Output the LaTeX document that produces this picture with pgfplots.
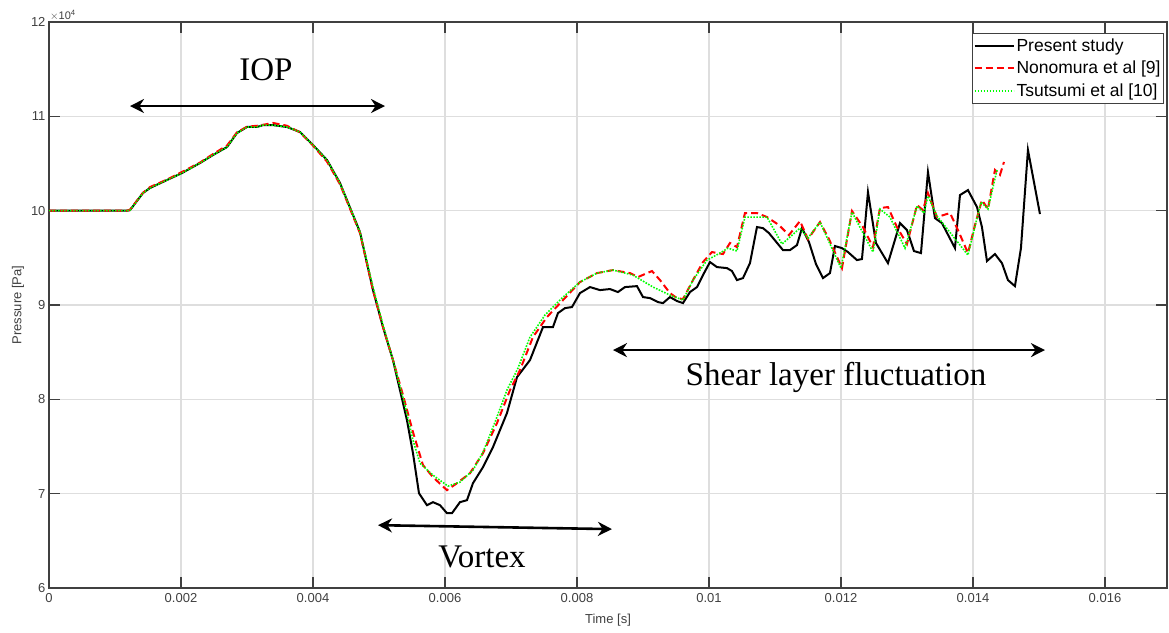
\documentclass[border=0pt]{standalone}
\usepackage{fontspec}
\setmainfont{Liberation Sans}
\newfontfamily\timesfont{Liberation Serif}
\usepackage{pgfplots}
\pgfplotsset{compat=1.18}
\usetikzlibrary{arrows.meta}
\definecolor{axgray}{HTML}{404040}
\definecolor{gridgray}{HTML}{DEDEDE}
\definecolor{mgreen}{HTML}{00FF00}
\definecolor{mred}{HTML}{FF0000}
\begin{document}
\begin{tikzpicture}
\begin{axis}[
  scale only axis, width=1118pt, height=566pt,
  xmin=0, xmax=16.94, ymin=6, ymax=12,
  xtick={0,2,...,16},
  xticklabels={0,0.002,0.004,0.006,0.008,0.01,0.012,0.014,0.016},
  ytick={6,7,...,12},
  grid=major, grid style={gridgray, line width=1.2pt},
  axis line style={axgray, line width=1.6pt},
  tick style={axgray, line width=1.6pt},
  tick align=inside, major tick length=11pt,
  /pgf/number format/assume math mode=true,
  ticklabel style={axgray, font=\fontsize{13}{15}\selectfont},
  xticklabel style={yshift=-2pt},
  xlabel={Time [s]}, ylabel={Pressure [Pa]},
  label style={axgray, font=\fontsize{13}{15}\selectfont},
  xlabel style={yshift=-4pt},
  ylabel style={yshift=0pt},
  legend style={at={(0.9973,0.9806)}, anchor=north east, draw=axgray, line width=1pt,
    font=\fontsize{17.5}{20}\selectfont, inner xsep=1pt, inner ysep=3pt, row sep=4.5pt, fill=white,
    nodes={inner xsep=2pt}},
  legend cell align=left,
  legend image code/.code={\draw[#1] (-2pt,0pt) -- (37pt,0pt);},
]
\addplot[black, line width=2pt] coordinates {
(0,10.0)(1.182,10.0)(1.227,10.005)(1.424,10.187)(1.530,10.240)(1.788,10.325)(2.015,10.399)(2.288,10.505)(2.485,10.590)(2.697,10.674)(2.848,10.823)(3.0,10.887)(3.152,10.887)(3.242,10.907)(3.394,10.907)(3.606,10.887)(3.803,10.834)(4.0,10.696)(4.212,10.537)(4.409,10.293)(4.712,9.773)(4.909,9.158)(5.061,8.766)(5.212,8.416)(5.424,7.779)(5.515,7.429)(5.606,7.005)(5.727,6.878)(5.818,6.910)(5.924,6.878)(6.030,6.793)(6.106,6.793)(6.227,6.910)(6.333,6.931)(6.424,7.111)(6.576,7.281)(6.727,7.493)(6.939,7.854)(7.091,8.235)(7.288,8.416)(7.485,8.766)(7.636,8.766)(7.712,8.914)(7.818,8.967)(7.924,8.978)(8.045,9.126)(8.197,9.190)(8.348,9.158)(8.5,9.169)(8.621,9.137)(8.727,9.190)(8.909,9.200)(9.0,9.084)(9.106,9.073)(9.227,9.031)(9.303,9.020)(9.409,9.084)(9.515,9.042)(9.606,9.020)(9.712,9.137)(9.818,9.190)(9.909,9.317)(10.015,9.455)(10.121,9.402)(10.273,9.391)(10.348,9.360)(10.424,9.264)(10.515,9.285)(10.621,9.444)(10.727,9.826)(10.818,9.815)(10.909,9.762)(11.121,9.582)(11.227,9.582)(11.333,9.635)(11.409,9.815)(11.515,9.667)(11.621,9.434)(11.727,9.285)(11.833,9.338)(11.909,9.625)(12.015,9.603)(12.106,9.561)(12.242,9.476)(12.318,9.487)(12.409,10.197)(12.530,9.657)(12.712,9.444)(12.894,9.868)(13.0,9.794)(13.106,9.572)(13.212,9.550)(13.318,10.409)(13.424,9.921)(13.530,9.868)(13.727,9.603)(13.803,10.165)(13.924,10.218)(14.061,10.038)(14.136,9.826)(14.212,9.466)(14.333,9.540)(14.439,9.444)(14.530,9.264)(14.636,9.200)(14.727,9.603)(14.833,10.643)(15.015,9.964)
};
\addlegendentry{Present study}
\addplot[mred, line width=2pt, dash pattern=on 7pt off 4pt] coordinates {
(0,10)(1.182,10)(1.227,10.01)(1.424,10.19)(1.53,10.25)(1.788,10.33)(2.015,10.41)(2.288,10.51)(2.485,10.6)(2.697,10.69)(2.848,10.83)(3.0,10.89)(3.152,10.9)(3.242,10.91)(3.394,10.93)(3.606,10.9)(3.803,10.83)(4.0,10.69)(4.212,10.52)(4.409,10.28)(4.712,9.762)(4.909,9.158)(5.061,8.766)(5.212,8.416)(5.364,8.045)(5.515,7.652)(5.667,7.302)(5.818,7.175)(6.030,7.037)(6.182,7.111)(6.379,7.217)(6.576,7.429)(6.788,7.748)(6.985,8.098)(7.136,8.310)(7.333,8.660)(7.545,8.872)(7.788,9.052)(8.045,9.243)(8.303,9.338)(8.545,9.370)(8.803,9.338)(8.924,9.296)(9.136,9.360)(9.258,9.264)(9.409,9.126)(9.515,9.073)(9.606,9.062)(9.758,9.264)(9.909,9.455)(10.045,9.561)(10.212,9.540)(10.318,9.657)(10.424,9.614)(10.545,9.975)(10.727,9.975)(10.879,9.932)(11.061,9.847)(11.212,9.741)(11.379,9.890)(11.5,9.699)(11.682,9.879)(11.818,9.699)(12.015,9.391)(12.167,9.996)(12.333,9.826)(12.485,9.614)(12.591,10.028)(12.712,10.038)(12.848,9.826)(13.0,9.646)(13.152,10.059)(13.242,10.006)(13.318,10.187)(13.455,9.932)(13.652,9.975)(13.773,9.794)(13.924,9.550)(14.030,9.847)(14.136,10.112)(14.227,10.017)(14.333,10.431)(14.409,10.378)(14.470,10.516)
};
\addlegendentry{Nonomura et al [9]}
\addplot[mgreen, line width=1.6pt, dash pattern=on 1.6pt off 1.4pt] coordinates {
(0,10.0)(1.182,10.0)(1.227,10.005)(1.424,10.187)(1.530,10.240)(1.788,10.325)(2.015,10.399)(2.288,10.505)(2.485,10.590)(2.697,10.674)(2.848,10.823)(3.0,10.887)(3.152,10.887)(3.242,10.907)(3.394,10.907)(3.606,10.887)(3.803,10.834)(4.0,10.696)(4.212,10.537)(4.409,10.293)(4.712,9.773)(4.909,9.190)(5.061,8.787)(5.212,8.416)(5.394,7.938)(5.515,7.567)(5.621,7.323)(5.818,7.196)(6.045,7.080)(6.227,7.122)(6.424,7.249)(6.576,7.440)(6.758,7.758)(6.939,8.098)(7.106,8.331)(7.288,8.660)(7.515,8.893)(7.773,9.073)(8.045,9.243)(8.303,9.338)(8.545,9.370)(8.848,9.317)(9.152,9.190)(9.409,9.105)(9.606,9.052)(9.758,9.264)(9.970,9.476)(10.167,9.550)(10.288,9.603)(10.424,9.572)(10.545,9.932)(10.879,9.932)(11.106,9.646)(11.379,9.815)(11.5,9.709)(11.682,9.879)(12.0,9.391)(12.167,9.985)(12.485,9.561)(12.591,10.017)(12.742,9.932)(12.970,9.603)(13.152,10.049)(13.258,9.975)(13.318,10.155)(13.455,9.943)(13.924,9.529)(14.121,10.091)(14.227,10.017)(14.364,10.431)
};
\addlegendentry{Tsutsumi et al [10]}
\draw[{Stealth[length=14pt,width=14pt]}-{Stealth[length=14pt,width=14pt]}, line width=2.6pt] (axis cs:1.227,11.109) -- (axis cs:5.091,11.109);
\node[font={\timesfont\fontsize{33}{36}\selectfont}] at (axis cs:3.288,11.491) {IOP};
\draw[{Stealth[length=14pt,width=14pt]}-{Stealth[length=14pt,width=14pt]}, line width=2.6pt] (axis cs:4.985,6.666) -- (axis cs:8.530,6.624);
\node[font={\timesfont\fontsize{33}{36}\selectfont}] at (axis cs:6.561,6.327) {Vortex};
\draw[{Stealth[length=14pt,width=14pt]}-{Stealth[length=14pt,width=14pt]}, line width=2.6pt] (axis cs:8.545,8.522) -- (axis cs:15.091,8.522);
\node[font={\timesfont\fontsize{33}{36}\selectfont}] at (axis cs:11.924,8.235) {Shear layer fluctuation};
\end{axis}
\node[anchor=south west, axgray, font=\fontsize{11}{12}\selectfont, inner sep=1pt] at (current axis.north west) {$\times$10\textsuperscript{4}};
\pgfresetboundingbox
\path ([shift={(-49pt,-45pt)}]current axis.south west) rectangle ([shift={(2pt,22pt)}]current axis.north east);
\end{tikzpicture}
\end{document}
